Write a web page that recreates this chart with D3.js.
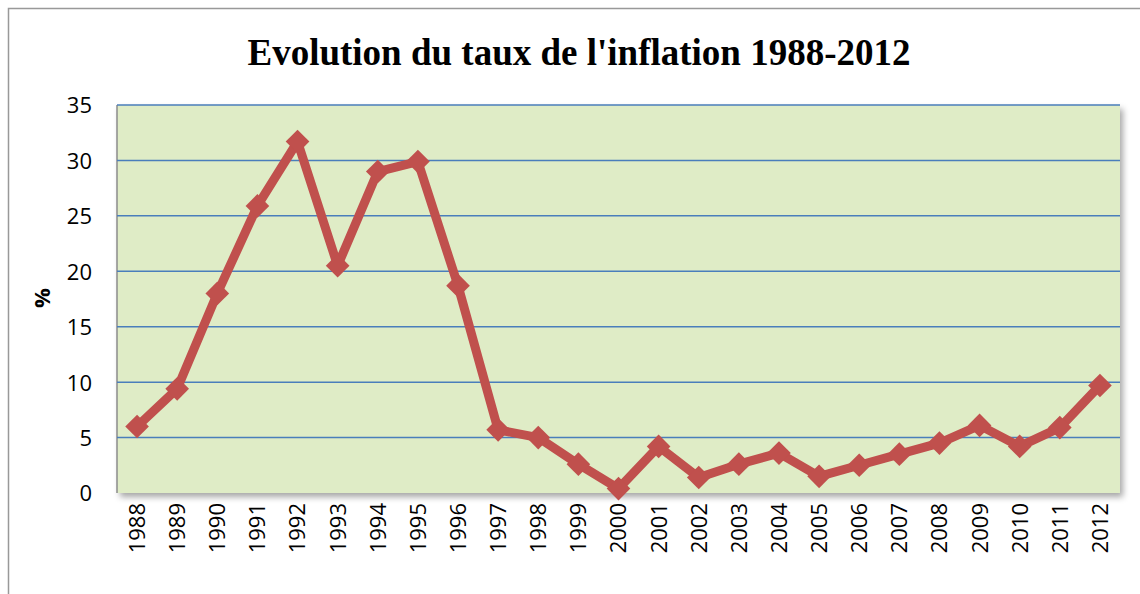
<!DOCTYPE html>
<html>
  <head>
    <meta http-equiv="Content-Type" content="text/html;charset=utf-8">
    <title>Evolution du taux de l'inflation 1988-2012</title>
    <script type="text/javascript" src="https://d3js.org/d3.v7.min.js"></script>
    <style>
	    html, body {
		    margin: 0;
		    padding: 0;
		    background: #fff;
	    }
	    text {
		    font-family: "Open Sans", "Noto Sans", sans-serif;
	    }
	    .axis path, .axis line { display: none; }
	    .grid line { stroke: #4a7ebb; stroke-width: 1.5px; }
	    path.line { fill: none; stroke: #c0504d; stroke-width: 9px; stroke-linejoin: round; }
    </style>
  </head>
  <body>
	<script type="text/javascript">

var years = ["1988","1989","1990","1991","1992","1993","1994","1995","1996","1997","1998","1999","2000",
             "2001","2002","2003","2004","2005","2006","2007","2008","2009","2010","2011","2012"];
var inflation = [6.0, 9.4, 18.0, 25.9, 31.7, 20.5, 29.0, 29.9, 18.7, 5.7, 5.0, 2.6, 0.4,
                 4.2, 1.4, 2.6, 3.6, 1.5, 2.5, 3.5, 4.5, 6.1, 4.2, 5.9, 9.7];
var yTicks = [0, 5, 10, 15, 20, 25, 30, 35];

var W = 1140, H = 594;
var plot = {left: 117, right: 1120, top: 105, bottom: 493};

var rows = years.map(function(y, i) { return {year: y, value: inflation[i]}; });

var x = d3.scaleBand().domain(years).range([plot.left, plot.right]);
var y = d3.scaleLinear().domain([0, 35]).range([plot.bottom, plot.top]);

var svg = d3.select("body").append("svg").attr("width", W).attr("height", H);

var defs = svg.append("defs");
var f = defs.append("filter").attr("id", "shadow").attr("x", "-5%").attr("y", "-5%").attr("width", "110%").attr("height", "120%");
f.append("feDropShadow").attr("dx", 3).attr("dy", 4).attr("stdDeviation", 3).attr("flood-color", "#000").attr("flood-opacity", 0.35);

// chart border
svg.append("rect").attr("x", 8.5).attr("y", 8.5).attr("width", W).attr("height", H)
  .attr("fill", "#fff").attr("stroke", "#999").attr("stroke-width", 1.5);

// title
svg.append("text").attr("x", 579).attr("y", 65).attr("text-anchor", "middle")
  .style("font-family", "'Liberation Serif', 'Times New Roman', serif")
  .style("font-weight", "bold").style("font-size", "37px")
  .text("Evolution du taux de l'inflation 1988-2012");

// plot area
svg.append("rect").attr("x", plot.left).attr("y", plot.top)
  .attr("width", plot.right - plot.left).attr("height", plot.bottom - plot.top)
  .attr("fill", "#dfecc6").attr("filter", "url(#shadow)");
svg.append("line").attr("x1", plot.left).attr("x2", plot.left).attr("y1", plot.top).attr("y2", plot.bottom)
  .attr("stroke", "#8c8c8c").attr("stroke-width", 1.5);

// gridlines
svg.append("g").attr("class", "grid")
  .selectAll("line").data(yTicks.filter(function(d) { return d > 0; })).enter().append("line")
  .attr("x1", plot.left).attr("x2", plot.right)
  .attr("y1", function(d) { return y(d); }).attr("y2", function(d) { return y(d); });

// y axis
var yAxis = svg.append("g").attr("class", "axis y")
  .attr("transform", "translate(" + (plot.left - 25) + ",0)")
  .call(d3.axisLeft(y).tickValues(yTicks).tickSize(0).tickPadding(0));
yAxis.selectAll("text").style("font-size", "22px").attr("fill", "#000").attr("dy", "0.36em");

// x axis
var xAxis = svg.append("g").attr("class", "axis x")
  .attr("transform", "translate(0," + plot.bottom + ")")
  .call(d3.axisBottom(x).tickSize(0).tickPadding(0));
xAxis.selectAll("text")
  .style("font-size", "22px").attr("fill", "#000")
  .attr("text-anchor", "end")
  .attr("transform", "rotate(-90)")
  .attr("x", -10).attr("y", 0).attr("dy", "0.36em");

// y axis title
svg.append("text").attr("transform", "translate(50,298) rotate(-90)")
  .attr("text-anchor", "middle").style("font-size", "22px").style("font-weight", "bold")
  .text("%");

// line
var line = d3.line()
  .x(function(d) { return x(d.year) + x.bandwidth() / 2; })
  .y(function(d) { return y(d.value); });

svg.append("path").datum(rows).attr("class", "line").attr("d", line);

// diamond markers
var diamond = d3.symbol().type(d3.symbolSquare).size(280);
svg.append("g").selectAll("path").data(rows).enter().append("path")
  .attr("d", diamond)
  .attr("fill", "#c0504d")
  .attr("transform", function(d) {
    return "translate(" + (x(d.year) + x.bandwidth() / 2) + "," + y(d.value) + ") rotate(45)";
  });

	</script>
  </body>
</html>
